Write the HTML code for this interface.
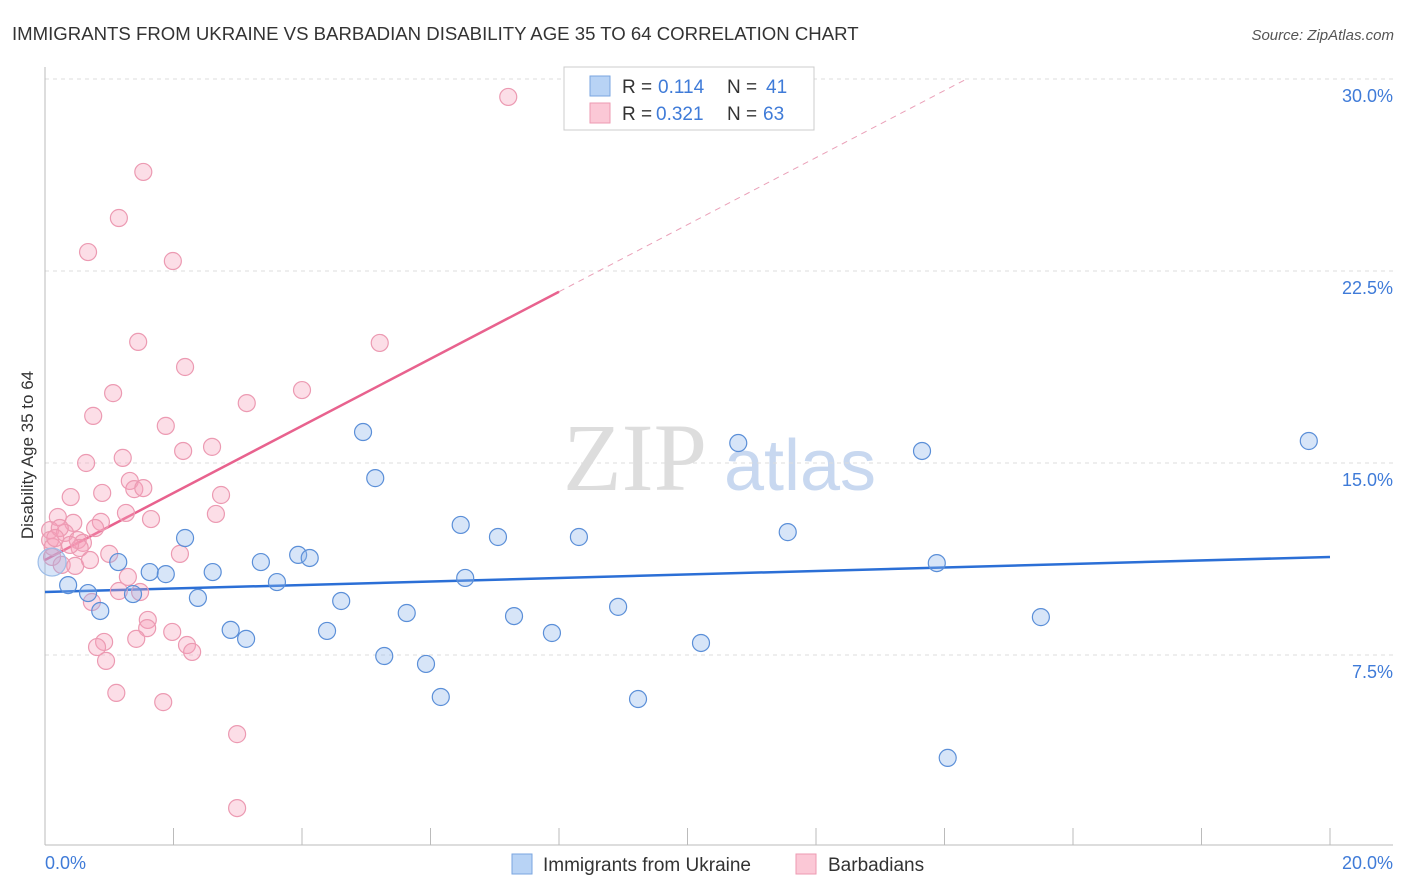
<!DOCTYPE html>
<html><head><meta charset="utf-8"><style>
body{margin:0;background:#fff;font-family:"Liberation Sans",sans-serif}
svg{display:block}
</style></head><body>
<svg id="c" width="1406" height="892" xmlns="http://www.w3.org/2000/svg">
<text x="12" y="40" font-size="18.6" fill="#333">IMMIGRANTS FROM UKRAINE VS BARBADIAN DISABILITY AGE 35 TO 64 CORRELATION CHART</text>
<text x="1394" y="40" font-size="15" fill="#555" font-style="italic" text-anchor="end">Source: ZipAtlas.com</text>
<g><text x="635" y="490" font-size="96" fill="#ddd" font-family="Liberation Serif,serif" text-anchor="middle">ZIP</text><text x="800" y="490" font-size="72" fill="#c8d8f0" text-anchor="middle">atlas</text></g>
<g id="grid"></g>
<line x1="45" y1="67" x2="45" y2="845" stroke="#bbb"/>
<line x1="45" y1="845" x2="1393" y2="845" stroke="#bbb"/>
<g id="ticks"></g>
<text transform="translate(33,455) rotate(-90)" font-size="17" fill="#333" text-anchor="middle">Disability Age 35 to 64</text>
<text x="45" y="869" font-size="18" fill="#3f7bd8">0.0%</text>
<text x="1393" y="869" font-size="18" fill="#3f7bd8" text-anchor="end">20.0%</text>
<g id="lines"></g>
<g id="pts"></g>
<g>
<rect x="564" y="67" width="250" height="63" fill="#fff" stroke="#ccc"/>
<rect x="590" y="76" width="20" height="20" fill="#b8d3f5" stroke="#7aa6e0"/>
<rect x="590" y="103" width="20" height="20" fill="#fbc8d6" stroke="#ec9ab2"/>
<text x="622" y="93" font-size="19" fill="#333">R =</text><text x="658" y="93" font-size="19" fill="#3f7bd8">0.114</text>
<text x="727" y="93" font-size="19" fill="#333">N =</text><text x="766" y="93" font-size="19" fill="#3f7bd8">41</text>
<text x="622" y="120" font-size="19" fill="#333">R =</text><text x="656" y="120" font-size="19" fill="#3f7bd8">0.321</text>
<text x="727" y="120" font-size="19" fill="#333">N =</text><text x="763" y="120" font-size="19" fill="#3f7bd8">63</text>
</g>
<g>
<rect x="512" y="854" width="20" height="20" fill="#b8d3f5" stroke="#7aa6e0"/>
<text x="543" y="871" font-size="19" fill="#333">Immigrants from Ukraine</text>
<rect x="796" y="854" width="20" height="20" fill="#fbc8d6" stroke="#ec9ab2"/>
<text x="828" y="871" font-size="19" fill="#333">Barbadians</text>
</g>
</svg>
<script>
const yTicks=[7.5,15,22.5,30];
const yTickLabels=["7.5%","15.0%","22.5%","30.0%"];
const xTicks=[0,2,4,6,8,10,12,14,16,18,20];
const blueX=[0.11,0.36,0.67,0.86,1.14,1.37,1.63,1.88,2.18,2.38,2.61,2.89,3.13,3.36,3.61,3.94,4.12,4.39,4.61,4.95,5.14,5.28,5.63,5.93,6.16,6.47,6.54,7.05,7.30,7.89,8.31,8.92,9.23,10.21,10.79,11.56,13.65,13.88,14.05,15.50,19.67];
const blueY=[11.13,10.23,9.92,9.22,11.13,9.88,10.74,10.66,12.07,9.73,10.74,8.48,8.13,11.13,10.35,11.41,11.29,8.44,9.61,16.21,14.41,7.46,9.14,7.15,5.86,12.58,10.51,12.11,9.02,8.36,12.11,9.38,5.78,7.97,15.78,12.30,15.47,11.09,3.48,8.98,15.86];
const pinkX=[0.75,1.88,3.14,2.15,2.60,0.64,1.21,1.32,1.39,1.53,0.40,0.89,2.74,2.66,1.26,1.65,0.20,0.44,0.87,0.78,0.08,0.08,0.31,0.51,0.59,0.54,0.12,0.11,2.10,1.00,0.26,0.47,1.29,1.15,1.48,0.73,1.60,1.59,1.98,1.42,2.21,2.29,0.92,0.81,0.95,1.11,1.84,7.21,1.53,1.15,0.67,1.99,1.45,5.21,2.18,1.06,4.00,2.99,2.99,0.23,0.16,0.39,0.70];
const pinkY=[16.84,16.45,17.34,15.47,15.63,15.00,15.20,14.30,13.98,14.02,13.67,13.83,13.75,13.01,13.05,12.81,12.89,12.66,12.70,12.46,12.38,11.99,12.27,11.99,11.88,11.68,11.72,11.33,11.45,11.45,11.02,10.98,10.55,10.00,9.96,9.57,8.87,8.55,8.40,8.13,7.89,7.62,8.01,7.81,7.27,6.02,5.66,29.30,26.37,24.57,23.24,22.89,19.73,19.69,18.75,17.73,17.85,4.41,1.52,12.46,12.07,11.80,11.21];
const blueTrend=[9.96,11.33];
const pinkTrend=[11.21,1.31];
const pinkSolidEnd=8.0;
const X=v=>45+v/20*1285, Y=v=>847-v/7.5*192;
const NS="http://www.w3.org/2000/svg";
function mk(t,a,p){const e=document.createElementNS(NS,t);for(const k in a)e.setAttribute(k,a[k]);p.appendChild(e);return e;}
const g=document.getElementById('grid');
yTicks.forEach((v,i)=>{
 const l=mk('line',{x1:45,x2:1393,y1:Y(v),y2:Y(v),stroke:'#ddd','stroke-dasharray':'4,4'},g);
 
 
 const t=mk('text',{x:1393,y:Y(v)+23,'font-size':18,fill:'#3f7bd8','text-anchor':'end'},g);
 t.textContent=yTickLabels[i];
 
 
});
const tk=document.getElementById('ticks');
xTicks.forEach(v=>{
 const l=mk('line',{x1:X(v),x2:X(v),y1:828,y2:845,stroke:'#bbb'},tk);
 
 
});
const pg=document.getElementById('pts');
pinkX.forEach((x,i)=>{
 const c=mk('circle',{cx:X(x),cy:Y(pinkY[i]),r:8.5,fill:'rgba(246,160,186,0.35)',stroke:'#ec9ab2','stroke-width':1.2},pg);
 
 
});
blueX.forEach((x,i)=>{
 const c=mk('circle',{cx:X(x),cy:Y(blueY[i]),r:i==0?14:8.5,fill:'rgba(140,180,235,0.35)',stroke:i==0?'#9dbde8':'#5b8fd8','stroke-width':1.2},pg);
 
 
});
const lg=document.getElementById('lines');
let l1=mk('line',{x1:X(0),y1:Y(blueTrend[0]),x2:X(20),y2:Y(blueTrend[1]),stroke:'#2b6fd6','stroke-width':2.5},lg);


const pe=(30-pinkTrend[0])/pinkTrend[1];
let l2=mk('line',{x1:X(0),y1:Y(pinkTrend[0]),x2:X(pinkSolidEnd),y2:Y(pinkTrend[0]+pinkTrend[1]*pinkSolidEnd),stroke:'#e8628e','stroke-width':2.5},lg);


let l3=mk('line',{x1:X(pinkSolidEnd),y1:Y(pinkTrend[0]+pinkTrend[1]*pinkSolidEnd),x2:X(pe),y2:Y(30),stroke:'#eaa0b8','stroke-width':1,'stroke-dasharray':'6,5'},lg);


</script>
</body></html>
